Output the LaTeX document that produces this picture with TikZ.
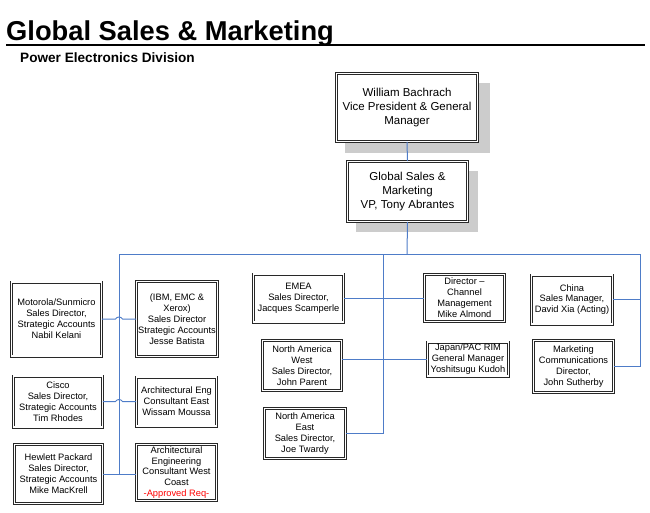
\documentclass[tikz,border=0pt]{standalone}
\usepackage{fontspec}
\setmainfont{Liberation Sans}
\usetikzlibrary{calc,backgrounds}
\definecolor{connblue}{RGB}{78,124,200}
\definecolor{shadowgray}{RGB}{204,204,204}
\definecolor{boxline}{RGB}{40,40,40}
\tikzset{
  box/.style={draw=boxline, double=white, double distance=1.1pt, line width=0.95pt,
    fill=white, align=center, inner sep=0pt, font=\fontsize{9.3}{10.9}\selectfont},
  bigbox/.style={box, font=\fontsize{11.5}{13.6}\selectfont},
  conn/.style={draw=connblue, line width=1pt},
  shadowfill/.style={fill=shadowgray}
}
\begin{document}
\begin{tikzpicture}[x=1pt,y=-1pt]
\useasboundingbox (0,0) rectangle (650,512);
% title
\node[anchor=base west, inner sep=0pt, font=\fontsize{27.3}{30}\selectfont\bfseries] (title) at (6,40) {Global Sales \& Marketing};
\draw[line width=2pt] (6,44.5) -- (645,44.5);
\node[anchor=base west, inner sep=0pt, font=\fontsize{13.6}{16}\selectfont\bfseries] (sub) at (20,62) {Power Electronics Division};
% top boxes
\node[bigbox, minimum width=141, minimum height=68] (will) at (407,107.5) {William Bachrach\\Vice President \& General\\Manager};
\node[bigbox, minimum width=120, minimum height=60] (gsm) at (407.5,191.5) {Global Sales \&\\Marketing\\VP, Tony Abrantes};
\begin{scope}[on background layer]
  \fill[shadowfill] ($(will.north west)+(9,10)$) rectangle ($(will.south east)+(12,11)$);
  \fill[shadowfill] ($(gsm.north west)+(9,10)$) rectangle ($(gsm.south east)+(10,10)$);
\end{scope}
% left column
\node[box, minimum width=90, minimum height=74] (moto) at (56.5,319) {Motorola/Sunmicro\\Sales Director,\\Strategic Accounts\\Nabil Kelani};
\node[box, minimum width=81, minimum height=75] (ibm) at (177,319) {(IBM, EMC \&\\Xerox)\\Sales Director\\Strategic Accounts\\Jesse Batista};
\node[box, minimum width=89, minimum height=51] (cisco) at (58,401.5) {Cisco\\Sales Director,\\Strategic Accounts\\Tim Rhodes};
\node[box, minimum width=80, minimum height=49] (archE) at (176.5,401.5) {Architectural Eng\\Consultant East\\Wissam Moussa};
\node[box, minimum width=88, minimum height=59] (hp) at (58.5,474) {Hewlett Packard\\Sales Director,\\Strategic Accounts\\Mike MacKrell};
\node[box, minimum width=80, minimum height=56] (archW) at (176.5,472.5) {Architectural\\Engineering\\Consultant West\\Coast\\\textcolor{red}{-Approved Req-}};
% middle column
\node[box, minimum width=90, minimum height=48] (emea) at (298.5,298) {EMEA\\Sales Director,\\Jacques Scamperle};
\node[box, minimum width=79, minimum height=50] (naw) at (302,365.5) {North America\\West\\Sales Director,\\John Parent};
\node[box, minimum width=81, minimum height=50] (nae) at (305,433.5) {North America\\East\\Sales Director,\\Joe Twardy};
\node[box, minimum width=80, minimum height=47] (dir) at (464.5,298) {Director --\\Channel\\Management\\Mike Almond};
\node[box, minimum width=81, minimum height=34] (japan) at (468,359) {Japan/PAC RIM\\General Manager\\Yoshitsugu Kudoh};
% right column
\node[box, minimum width=81, minimum height=49] (china) at (572,299.5) {China\\Sales Manager,\\David Xia (Acting)};
\node[box, minimum width=80, minimum height=52] (mkt) at (573.5,366.5) {Marketing\\Communications\\Director,\\John Sutherby};
% connectors
\coordinate (top) at (407,254);
\coordinate (L) at (119,254);
\coordinate (M) at (383,254);
\coordinate (R) at (640,254);
\draw[conn] (will.south) -- (gsm.north);
\draw[conn] (gsm.south) -- (top);
\draw[conn] (L) -- (R);
\draw[conn] (L) -- (L |- hp.east);
\draw[conn] (hp.east) -- (archW.west |- hp.east);
\draw[conn] (moto.east) -- ($(L |- moto.east)+(-3.5,0)$) .. controls +(1.2,-2.6) and +(-1.2,-2.6) .. ($(L |- moto.east)+(3.5,0)$) -- (ibm.west);
\draw[conn] (cisco.east) -- ($(L |- cisco.east)+(-3.5,0)$) .. controls +(1.2,-2.6) and +(-1.2,-2.6) .. ($(L |- cisco.east)+(3.5,0)$) -- (archE.west);
\draw[conn] (M) -- (M |- nae.east) -- (nae.east);
\draw[conn] (emea.east) -- (dir.west);
\draw[conn] (naw.east |- japan.west) -- (japan.west);
\draw[conn] (R) -- (R |- mkt.east) -- (mkt.east);
\draw[conn] (china.east) -- (R |- china.east);
\end{tikzpicture}
\end{document}
